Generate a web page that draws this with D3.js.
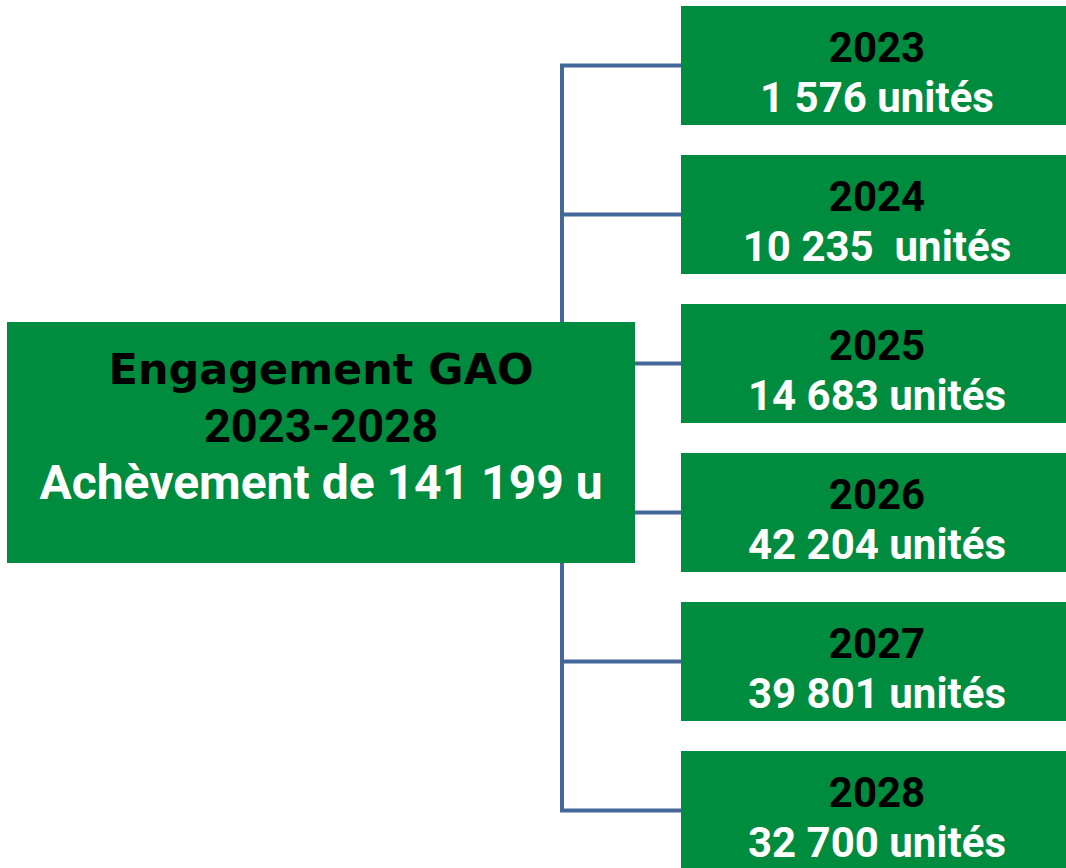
<!DOCTYPE html>
<html lang="fr">
<head>
<meta charset="UTF-8">
<title>Engagement GAO 2023-2028</title>
<script src="https://d3js.org/d3.v7.min.js"></script>
<style>
  body { margin: 0; background: #fff; }
  svg text { font-family: Roboto, "Liberation Sans", sans-serif; font-weight: 700; white-space: pre; }
</style>
</head>
<body>
<svg width="1066" height="868"></svg>
<script>
// data
const years = ["2023", "2024", "2025", "2026", "2027", "2028"];
const units = ["1 576 unités", "10 235  unités", "14 683 unités", "42 204 unités", "39 801 unités", "32 700 unités"];
const rootLines = ["Engagement GAO", "2023-2028", "Achèvement de 141 199 u"];

const green = "#008c3e";
const lineColor = "#44679a";

const svg = d3.select("svg");

// layout
const y = d3.scaleBand().domain(years).range([6, 870]).paddingInner(30 / 149);
const leafX = 681, leafW = 392;
const trunkX = 562;
const root = { x: 7, y: 322, w: 628, h: 241 };

// connectors
const first = y(years[0]) + y.bandwidth() / 2;
const last = y(years[years.length - 1]) + y.bandwidth() / 2;
svg.append("path")
  .attr("d", `M${leafX},${first}H${trunkX}V${last}H${leafX}`)
  .attr("fill", "none")
  .attr("stroke", lineColor)
  .attr("stroke-width", 4);

svg.selectAll(".branch").data(years.slice(1, -1)).join("line")
  .attr("class", "branch")
  .attr("x1", trunkX).attr("x2", leafX)
  .attr("y1", d => y(d) + y.bandwidth() / 2)
  .attr("y2", d => y(d) + y.bandwidth() / 2)
  .attr("stroke", lineColor)
  .attr("stroke-width", 4);

// root box
svg.append("rect")
  .attr("x", root.x).attr("y", root.y)
  .attr("width", root.w).attr("height", root.h)
  .attr("fill", green);

// first line uses a wider face, like the original title
svg.selectAll(".root-label").data(rootLines).join("text")
  .attr("class", "root-label")
  .attr("x", root.x + root.w / 2)
  .attr("y", (d, i) => 384 + i * 57.5)
  .attr("text-anchor", "middle")
  .attr("font-size", (d, i) => i === 0 ? 43 : i === 1 ? 47 : 48)
  .style("font-family", (d, i) => i === 0 ? "'DejaVu Sans', sans-serif" : null)
  .attr("fill", (d, i) => i < 2 ? "#000" : "#fff")
  .text(d => d);

// leaf boxes
const leaves = svg.selectAll(".leaf").data(years).join("g")
  .attr("class", "leaf")
  .attr("transform", d => `translate(${leafX},${y(d)})`);

leaves.append("rect")
  .attr("width", leafW)
  .attr("height", y.bandwidth())
  .attr("fill", green);

leaves.append("text")
  .attr("x", leafW / 2)
  .attr("y", 56)
  .attr("text-anchor", "middle")
  .attr("font-size", 42)
  .attr("fill", "#000")
  .text(d => d);

leaves.append("text")
  .attr("x", leafW / 2)
  .attr("y", 106)
  .attr("text-anchor", "middle")
  .attr("font-size", 42)
  .attr("fill", "#fff")
  .text((d, i) => units[i]);
</script>
</body>
</html>
